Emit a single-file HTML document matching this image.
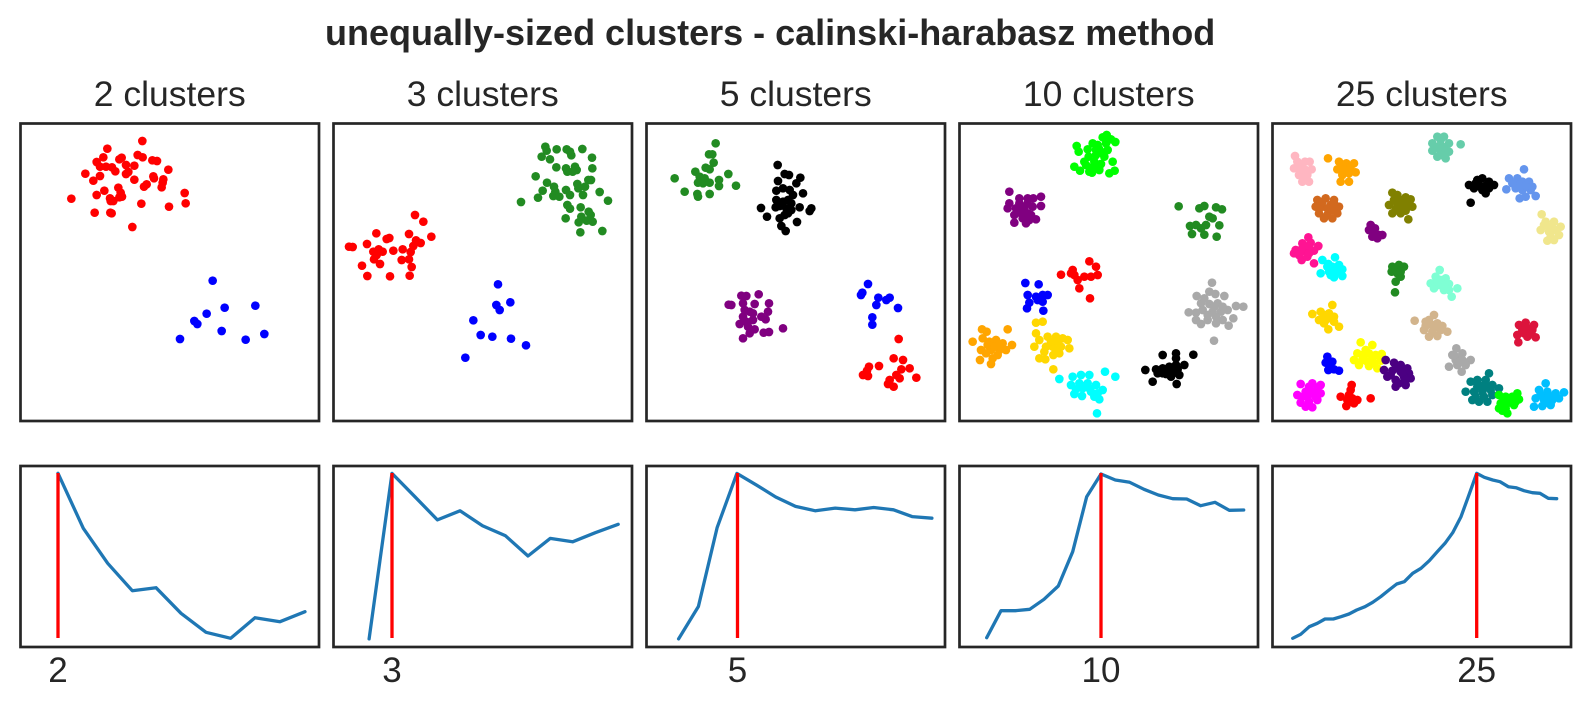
<!DOCTYPE html>
<html>
<head>
<meta charset="utf-8">
<style>
html,body{margin:0;padding:0;background:#fff;}
svg{display:block;}
text{font-family:"Liberation Sans",Arial,sans-serif;fill:#262626;}
</style>
</head>
<body>
<svg width="1589" height="709" viewBox="0 0 1589 709" xmlns="http://www.w3.org/2000/svg">
<rect x="0" y="0" width="1589" height="709" fill="#fff"/>
<text x="325" y="45" font-size="36" font-weight="bold">unequally-sized clusters - calinski-harabasz method</text>
<g font-size="35.5" text-anchor="middle">
<text x="169.75" y="106">2 clusters</text>
<text x="482.75" y="106">3 clusters</text>
<text x="795.75" y="106">5 clusters</text>
<text x="1108.75" y="106">10 clusters</text>
<text x="1421.75" y="106">25 clusters</text>
</g>

<!-- Panel 1 -->
<g transform="translate(0,100) scale(0.333333)">
<g fill="#ff0000">
<circle cx="427" cy="123" r="13"/><circle cx="322" cy="146" r="13"/><circle cx="310" cy="172" r="13"/><circle cx="290" cy="186" r="13"/><circle cx="365" cy="173" r="13"/><circle cx="358" cy="178" r="13"/><circle cx="413" cy="165" r="13"/><circle cx="428" cy="172" r="13"/><circle cx="457" cy="181" r="13"/><circle cx="471" cy="183" r="13"/><circle cx="505" cy="209" r="13"/><circle cx="403" cy="197" r="13"/><circle cx="378" cy="195" r="13"/><circle cx="300" cy="200" r="13"/><circle cx="318" cy="200" r="13"/><circle cx="336" cy="202" r="13"/><circle cx="346" cy="214" r="13"/><circle cx="256" cy="221" r="13"/><circle cx="280" cy="242" r="13"/><circle cx="300" cy="228" r="13"/><circle cx="378" cy="222" r="13"/><circle cx="385" cy="216" r="13"/><circle cx="403" cy="239" r="13"/><circle cx="460" cy="229" r="13"/><circle cx="462" cy="235" r="13"/><circle cx="490" cy="238" r="13"/><circle cx="488" cy="248" r="13"/><circle cx="485" cy="262" r="13"/><circle cx="432" cy="260" r="13"/><circle cx="440" cy="253" r="13"/><circle cx="355" cy="263" r="13"/><circle cx="313" cy="272" r="13"/><circle cx="290" cy="285" r="13"/><circle cx="362" cy="278" r="13"/><circle cx="366" cy="290" r="13"/><circle cx="358" cy="292" r="13"/><circle cx="330" cy="295" r="13"/><circle cx="340" cy="303" r="13"/><circle cx="332" cy="303" r="13"/><circle cx="214" cy="296" r="13"/><circle cx="424" cy="311" r="13"/><circle cx="554" cy="279" r="13"/><circle cx="557" cy="310" r="13"/><circle cx="507" cy="320" r="13"/><circle cx="284" cy="338" r="13"/><circle cx="331" cy="338" r="13"/><circle cx="335" cy="340" r="13"/><circle cx="397" cy="381" r="13"/>
</g>
<g fill="#0000ff">
<circle cx="638" cy="542" r="13"/><circle cx="674" cy="623" r="13"/><circle cx="766" cy="617" r="13"/><circle cx="620" cy="641" r="13"/><circle cx="583" cy="663" r="13"/><circle cx="592" cy="672" r="13"/><circle cx="665" cy="693" r="13"/><circle cx="540" cy="717" r="13"/><circle cx="737" cy="719" r="13"/><circle cx="793" cy="702" r="13"/>
</g>
</g>

<!-- Panel 2 -->
<g transform="translate(330,120) scale(0.333333)">
<g fill="#ff0000">
<circle cx="255" cy="285" r="13"/><circle cx="280" cy="305" r="13"/><circle cx="139" cy="340" r="13"/><circle cx="170" cy="357" r="13"/><circle cx="178" cy="354" r="13"/><circle cx="237" cy="342" r="13"/><circle cx="304" cy="350" r="13"/><circle cx="57" cy="380" r="13"/><circle cx="68" cy="381" r="13"/><circle cx="111" cy="372" r="13"/><circle cx="258" cy="361" r="13"/><circle cx="272" cy="369" r="13"/><circle cx="250" cy="378" r="13"/><circle cx="130" cy="395" r="13"/><circle cx="146" cy="388" r="13"/><circle cx="158" cy="395" r="13"/><circle cx="140" cy="405" r="13"/><circle cx="190" cy="392" r="13"/><circle cx="218" cy="388" r="13"/><circle cx="242" cy="396" r="13"/><circle cx="132" cy="418" r="13"/><circle cx="150" cy="432" r="13"/><circle cx="96" cy="437" r="13"/><circle cx="215" cy="420" r="13"/><circle cx="237" cy="418" r="13"/><circle cx="245" cy="441" r="13"/><circle cx="112" cy="468" r="13"/><circle cx="180" cy="469" r="13"/><circle cx="239" cy="467" r="13"/>
</g>
<g fill="#228b22">
<circle cx="646" cy="80" r="13"/><circle cx="650" cy="92" r="13"/><circle cx="680" cy="88" r="13"/><circle cx="710" cy="88" r="13"/><circle cx="720" cy="95" r="13"/><circle cx="724" cy="106" r="13"/><circle cx="757" cy="87" r="13"/><circle cx="635" cy="110" r="13"/><circle cx="660" cy="118" r="13"/><circle cx="786" cy="113" r="13"/><circle cx="679" cy="142" r="13"/><circle cx="708" cy="145" r="13"/><circle cx="712" cy="155" r="13"/><circle cx="735" cy="140" r="13"/><circle cx="740" cy="150" r="13"/><circle cx="728" cy="155" r="13"/><circle cx="787" cy="145" r="13"/><circle cx="617" cy="169" r="13"/><circle cx="651" cy="188" r="13"/><circle cx="775" cy="180" r="13"/><circle cx="783" cy="180" r="13"/><circle cx="742" cy="192" r="13"/><circle cx="745" cy="205" r="13"/><circle cx="765" cy="200" r="13"/><circle cx="638" cy="212" r="13"/><circle cx="672" cy="200" r="13"/><circle cx="676" cy="215" r="13"/><circle cx="670" cy="228" r="13"/><circle cx="688" cy="230" r="13"/><circle cx="708" cy="210" r="13"/><circle cx="720" cy="225" r="13"/><circle cx="759" cy="225" r="13"/><circle cx="809" cy="216" r="13"/><circle cx="834" cy="242" r="13"/><circle cx="624" cy="233" r="13"/><circle cx="573" cy="246" r="13"/><circle cx="712" cy="255" r="13"/><circle cx="720" cy="266" r="13"/><circle cx="752" cy="262" r="13"/><circle cx="776" cy="275" r="13"/><circle cx="782" cy="285" r="13"/><circle cx="754" cy="290" r="13"/><circle cx="770" cy="302" r="13"/><circle cx="788" cy="305" r="13"/><circle cx="707" cy="295" r="13"/><circle cx="746" cy="307" r="13"/><circle cx="817" cy="333" r="13"/><circle cx="751" cy="337" r="13"/>
</g>
<g fill="#0000ff">
<circle cx="504" cy="493" r="13"/><circle cx="541" cy="547" r="13"/><circle cx="499" cy="555" r="13"/><circle cx="509" cy="570" r="13"/><circle cx="430" cy="601" r="13"/><circle cx="452" cy="645" r="13"/><circle cx="487" cy="650" r="13"/><circle cx="543" cy="656" r="13"/><circle cx="588" cy="676" r="13"/><circle cx="406" cy="713" r="13"/>
</g>
</g>

<!-- Panel 3 -->
<g transform="translate(643,120) scale(0.333333)">
<g fill="#228b22">
<circle cx="218" cy="70" r="13"/><circle cx="198" cy="103" r="13"/><circle cx="208" cy="103" r="13"/><circle cx="212" cy="128" r="13"/><circle cx="188" cy="143" r="13"/><circle cx="200" cy="148" r="13"/><circle cx="157" cy="155" r="13"/><circle cx="95" cy="175" r="13"/><circle cx="256" cy="162" r="13"/><circle cx="170" cy="170" r="13"/><circle cx="185" cy="175" r="13"/><circle cx="165" cy="188" r="13"/><circle cx="180" cy="190" r="13"/><circle cx="200" cy="188" r="13"/><circle cx="228" cy="180" r="13"/><circle cx="228" cy="198" r="13"/><circle cx="279" cy="197" r="13"/><circle cx="125" cy="215" r="13"/><circle cx="163" cy="222" r="13"/><circle cx="165" cy="230" r="13"/><circle cx="200" cy="222" r="13"/>
</g>
<g fill="#000000">
<circle cx="404" cy="135" r="13"/><circle cx="425" cy="162" r="13"/><circle cx="438" cy="165" r="13"/><circle cx="472" cy="173" r="13"/><circle cx="405" cy="183" r="13"/><circle cx="460" cy="190" r="13"/><circle cx="400" cy="212" r="13"/><circle cx="420" cy="205" r="13"/><circle cx="440" cy="210" r="13"/><circle cx="450" cy="225" r="13"/><circle cx="435" cy="240" r="13"/><circle cx="480" cy="220" r="13"/><circle cx="398" cy="262" r="13"/><circle cx="410" cy="258" r="13"/><circle cx="430" cy="265" r="13"/><circle cx="445" cy="270" r="13"/><circle cx="470" cy="262" r="13"/><circle cx="505" cy="265" r="13"/><circle cx="500" cy="273" r="13"/><circle cx="354" cy="264" r="13"/><circle cx="372" cy="290" r="13"/><circle cx="410" cy="295" r="13"/><circle cx="425" cy="285" r="13"/><circle cx="435" cy="280" r="13"/><circle cx="462" cy="306" r="13"/><circle cx="415" cy="318" r="13"/><circle cx="428" cy="333" r="13"/><circle cx="420" cy="245" r="13"/><circle cx="445" cy="250" r="13"/><circle cx="400" cy="240" r="13"/>
</g>
<g fill="#800080">
<circle cx="347" cy="523" r="13"/><circle cx="295" cy="527" r="13"/><circle cx="310" cy="528" r="13"/><circle cx="257" cy="554" r="13"/><circle cx="265" cy="555" r="13"/><circle cx="300" cy="550" r="13"/><circle cx="335" cy="552" r="13"/><circle cx="378" cy="550" r="13"/><circle cx="305" cy="570" r="13"/><circle cx="320" cy="575" r="13"/><circle cx="330" cy="580" r="13"/><circle cx="375" cy="575" r="13"/><circle cx="300" cy="590" r="13"/><circle cx="355" cy="590" r="13"/><circle cx="368" cy="598" r="13"/><circle cx="290" cy="612" r="13"/><circle cx="310" cy="605" r="13"/><circle cx="335" cy="628" r="13"/><circle cx="362" cy="638" r="13"/><circle cx="378" cy="636" r="13"/><circle cx="320" cy="640" r="13"/><circle cx="300" cy="655" r="13"/><circle cx="420" cy="625" r="13"/><circle cx="330" cy="600" r="13"/><circle cx="315" cy="620" r="13"/>
</g>
<g fill="#0000ff">
<circle cx="675" cy="492" r="13"/><circle cx="658" cy="518" r="13"/><circle cx="654" cy="525" r="13"/><circle cx="706" cy="533" r="13"/><circle cx="700" cy="555" r="13"/><circle cx="730" cy="540" r="13"/><circle cx="740" cy="533" r="13"/><circle cx="765" cy="564" r="13"/><circle cx="688" cy="592" r="13"/><circle cx="688" cy="614" r="13"/>
</g>
<g fill="#ff0000">
<circle cx="767" cy="657" r="13"/><circle cx="752" cy="715" r="13"/><circle cx="780" cy="720" r="13"/><circle cx="708" cy="738" r="13"/><circle cx="678" cy="740" r="13"/><circle cx="672" cy="752" r="13"/><circle cx="660" cy="765" r="13"/><circle cx="675" cy="768" r="13"/><circle cx="800" cy="745" r="13"/><circle cx="775" cy="748" r="13"/><circle cx="760" cy="765" r="13"/><circle cx="770" cy="775" r="13"/><circle cx="740" cy="780" r="13"/><circle cx="735" cy="792" r="13"/><circle cx="752" cy="800" r="13"/><circle cx="820" cy="773" r="13"/>
</g>
</g>

<!-- Panel 4 -->
<g transform="translate(956,120) scale(0.333333)">
<g fill="#00ff00">
<circle cx="452" cy="45" r="13"/><circle cx="440" cy="52" r="13"/><circle cx="465" cy="58" r="13"/><circle cx="478" cy="66" r="13"/><circle cx="410" cy="70" r="13"/><circle cx="425" cy="75" r="13"/><circle cx="362" cy="78" r="13"/><circle cx="368" cy="95" r="13"/><circle cx="395" cy="88" r="13"/><circle cx="430" cy="88" r="13"/><circle cx="455" cy="90" r="13"/><circle cx="398" cy="110" r="13"/><circle cx="420" cy="105" r="13"/><circle cx="445" cy="110" r="13"/><circle cx="470" cy="125" r="13"/><circle cx="415" cy="125" r="13"/><circle cx="355" cy="140" r="13"/><circle cx="372" cy="152" r="13"/><circle cx="400" cy="155" r="13"/><circle cx="412" cy="140" r="13"/><circle cx="435" cy="132" r="13"/><circle cx="460" cy="160" r="13"/><circle cx="476" cy="152" r="13"/><circle cx="385" cy="125" r="13"/><circle cx="408" cy="158" r="13"/>
<circle cx="420" cy="90" r="13"/><circle cx="440" cy="100" r="13"/><circle cx="390" cy="135" r="13"/><circle cx="430" cy="150" r="13"/><circle cx="450" cy="70" r="13"/>
</g>
<g fill="#800080">
<circle cx="160" cy="215" r="13"/><circle cx="190" cy="235" r="13"/><circle cx="215" cy="235" r="13"/><circle cx="232" cy="235" r="13"/><circle cx="255" cy="230" r="13"/><circle cx="255" cy="258" r="13"/><circle cx="155" cy="265" r="13"/><circle cx="160" cy="250" r="13"/><circle cx="180" cy="265" r="13"/><circle cx="205" cy="265" r="13"/><circle cx="230" cy="260" r="13"/><circle cx="175" cy="285" r="13"/><circle cx="195" cy="280" r="13"/><circle cx="215" cy="280" r="13"/><circle cx="240" cy="298" r="13"/><circle cx="175" cy="308" r="13"/><circle cx="210" cy="310" r="13"/><circle cx="220" cy="300" r="13"/><circle cx="200" cy="295" r="13"/>
<circle cx="190" cy="250" r="13"/><circle cx="215" cy="250" r="13"/><circle cx="195" cy="270" r="13"/><circle cx="225" cy="285" r="13"/>
</g>
<g fill="#228b22">
<circle cx="668" cy="259" r="13"/><circle cx="730" cy="265" r="13"/><circle cx="745" cy="258" r="13"/><circle cx="780" cy="262" r="13"/><circle cx="798" cy="268" r="13"/><circle cx="760" cy="290" r="13"/><circle cx="770" cy="295" r="13"/><circle cx="702" cy="318" r="13"/><circle cx="720" cy="315" r="13"/><circle cx="750" cy="315" r="13"/><circle cx="790" cy="316" r="13"/><circle cx="708" cy="342" r="13"/><circle cx="745" cy="344" r="13"/><circle cx="782" cy="350" r="13"/><circle cx="735" cy="325" r="13"/>
</g>
<g fill="#ff0000">
<circle cx="400" cy="424" r="13"/><circle cx="420" cy="440" r="13"/><circle cx="425" cy="465" r="13"/><circle cx="315" cy="464" r="13"/><circle cx="350" cy="450" r="13"/><circle cx="355" cy="465" r="13"/><circle cx="365" cy="480" r="13"/><circle cx="385" cy="470" r="13"/><circle cx="405" cy="470" r="13"/><circle cx="370" cy="505" r="13"/><circle cx="402" cy="535" r="13"/><circle cx="345" cy="460" r="13"/>
</g>
<g fill="#0000ff">
<circle cx="208" cy="489" r="13"/><circle cx="248" cy="493" r="13"/><circle cx="215" cy="525" r="13"/><circle cx="240" cy="530" r="13"/><circle cx="260" cy="525" r="13"/><circle cx="275" cy="525" r="13"/><circle cx="220" cy="548" r="13"/><circle cx="260" cy="545" r="13"/><circle cx="213" cy="565" r="13"/><circle cx="262" cy="572" r="13"/><circle cx="245" cy="540" r="13"/>
</g>
<g fill="#a9a9a9">
<circle cx="768" cy="488" r="13"/><circle cx="760" cy="515" r="13"/><circle cx="778" cy="522" r="13"/><circle cx="805" cy="528" r="13"/><circle cx="722" cy="528" r="13"/><circle cx="735" cy="550" r="13"/><circle cx="760" cy="552" r="13"/><circle cx="785" cy="550" r="13"/><circle cx="840" cy="558" r="13"/><circle cx="862" cy="560" r="13"/><circle cx="698" cy="577" r="13"/><circle cx="720" cy="578" r="13"/><circle cx="740" cy="570" r="13"/><circle cx="770" cy="575" r="13"/><circle cx="795" cy="575" r="13"/><circle cx="815" cy="570" r="13"/><circle cx="720" cy="600" r="13"/><circle cx="735" cy="612" r="13"/><circle cx="755" cy="600" r="13"/><circle cx="780" cy="590" r="13"/><circle cx="800" cy="600" r="13"/><circle cx="818" cy="617" r="13"/><circle cx="832" cy="595" r="13"/><circle cx="774" cy="662" r="13"/>
<circle cx="775" cy="560" r="13"/><circle cx="800" cy="560" r="13"/><circle cx="755" cy="585" r="13"/><circle cx="780" cy="610" r="13"/><circle cx="745" cy="535" r="13"/>
</g>
<g fill="#ffa500">
<circle cx="78" cy="628" r="13"/><circle cx="92" cy="635" r="13"/><circle cx="155" cy="628" r="13"/><circle cx="50" cy="665" r="13"/><circle cx="80" cy="655" r="13"/><circle cx="100" cy="665" r="13"/><circle cx="120" cy="660" r="13"/><circle cx="140" cy="670" r="13"/><circle cx="168" cy="675" r="13"/><circle cx="75" cy="690" r="13"/><circle cx="105" cy="690" r="13"/><circle cx="130" cy="690" r="13"/><circle cx="150" cy="690" r="13"/><circle cx="72" cy="720" r="13"/><circle cx="110" cy="715" r="13"/><circle cx="105" cy="732" r="13"/><circle cx="125" cy="705" r="13"/>
<circle cx="95" cy="675" r="13"/><circle cx="115" cy="680" r="13"/><circle cx="90" cy="700" r="13"/><circle cx="130" cy="675" r="13"/>
</g>
<g fill="#ffd700">
<circle cx="240" cy="608" r="13"/><circle cx="260" cy="605" r="13"/><circle cx="240" cy="640" r="13"/><circle cx="250" cy="660" r="13"/><circle cx="275" cy="650" r="13"/><circle cx="300" cy="650" r="13"/><circle cx="320" cy="655" r="13"/><circle cx="335" cy="660" r="13"/><circle cx="235" cy="680" r="13"/><circle cx="270" cy="680" r="13"/><circle cx="290" cy="680" r="13"/><circle cx="315" cy="680" r="13"/><circle cx="340" cy="685" r="13"/><circle cx="310" cy="700" r="13"/><circle cx="250" cy="715" r="13"/><circle cx="268" cy="718" r="13"/><circle cx="292" cy="705" r="13"/><circle cx="292" cy="748" r="13"/>
<circle cx="285" cy="665" r="13"/><circle cx="305" cy="665" r="13"/><circle cx="265" cy="695" r="13"/><circle cx="300" cy="690" r="13"/>
</g>
<g fill="#00ffff">
<circle cx="310" cy="777" r="13"/><circle cx="350" cy="770" r="13"/><circle cx="375" cy="765" r="13"/><circle cx="400" cy="765" r="13"/><circle cx="447" cy="755" r="13"/><circle cx="478" cy="770" r="13"/><circle cx="345" cy="795" r="13"/><circle cx="370" cy="790" r="13"/><circle cx="395" cy="790" r="13"/><circle cx="420" cy="795" r="13"/><circle cx="440" cy="810" r="13"/><circle cx="355" cy="822" r="13"/><circle cx="378" cy="828" r="13"/><circle cx="405" cy="815" r="13"/><circle cx="425" cy="820" r="13"/><circle cx="430" cy="838" r="13"/><circle cx="423" cy="880" r="13"/>
<circle cx="380" cy="805" r="13"/><circle cx="400" cy="805" r="13"/><circle cx="360" cy="808" r="13"/><circle cx="415" cy="830" r="13"/>
</g>
<g fill="#000000">
<circle cx="620" cy="705" r="13"/><circle cx="660" cy="700" r="13"/><circle cx="712" cy="704" r="13"/><circle cx="568" cy="750" r="13"/><circle cx="600" cy="748" r="13"/><circle cx="620" cy="745" r="13"/><circle cx="640" cy="740" r="13"/><circle cx="660" cy="735" r="13"/><circle cx="685" cy="735" r="13"/><circle cx="605" cy="760" r="13"/><circle cx="630" cy="762" r="13"/><circle cx="652" cy="758" r="13"/><circle cx="670" cy="765" r="13"/><circle cx="590" cy="785" r="13"/><circle cx="662" cy="792" r="13"/><circle cx="645" cy="770" r="13"/>
<circle cx="640" cy="755" r="13"/><circle cx="620" cy="760" r="13"/><circle cx="665" cy="748" r="13"/><circle cx="660" cy="715" r="13"/>
</g>
</g>

<!-- Panel 5 -->
<g transform="translate(1269,120) scale(0.333333)">
<g fill="#66cdaa"><circle cx="505" cy="50" r="13"/><circle cx="525" cy="50" r="13"/><circle cx="490" cy="70" r="13"/><circle cx="515" cy="75" r="13"/><circle cx="540" cy="70" r="13"/><circle cx="575" cy="73" r="13"/><circle cx="490" cy="92" r="13"/><circle cx="515" cy="95" r="13"/><circle cx="540" cy="95" r="13"/><circle cx="505" cy="110" r="13"/><circle cx="530" cy="115" r="13"/><circle cx="500" cy="80" r="13"/><circle cx="525" cy="82" r="13"/><circle cx="515" cy="60" r="13"/><circle cx="520" cy="105" r="13"/></g>
<g fill="#ffb6c1"><circle cx="78" cy="108" r="13"/><circle cx="85" cy="125" r="13"/><circle cx="108" cy="125" r="13"/><circle cx="122" cy="125" r="13"/><circle cx="75" cy="145" r="13"/><circle cx="100" cy="145" r="13"/><circle cx="128" cy="148" r="13"/><circle cx="90" cy="165" r="13"/><circle cx="115" cy="165" r="13"/><circle cx="100" cy="185" r="13"/><circle cx="120" cy="185" r="13"/><circle cx="95" cy="135" r="13"/><circle cx="110" cy="150" r="13"/><circle cx="95" cy="155" r="13"/><circle cx="105" cy="172" r="13"/></g>
<g fill="#ffa500"><circle cx="177" cy="115" r="13"/><circle cx="210" cy="125" r="13"/><circle cx="232" cy="130" r="13"/><circle cx="255" cy="130" r="13"/><circle cx="205" cy="148" r="13"/><circle cx="230" cy="145" r="13"/><circle cx="260" cy="157" r="13"/><circle cx="220" cy="165" r="13"/><circle cx="215" cy="185" r="13"/><circle cx="240" cy="185" r="13"/><circle cx="220" cy="135" r="13"/><circle cx="240" cy="160" r="13"/><circle cx="225" cy="150" r="13"/><circle cx="245" cy="140" r="13"/></g>
<g fill="#000000"><circle cx="600" cy="195" r="13"/><circle cx="625" cy="180" r="13"/><circle cx="640" cy="175" r="13"/><circle cx="660" cy="185" r="13"/><circle cx="675" cy="195" r="13"/><circle cx="615" cy="205" r="13"/><circle cx="640" cy="210" r="13"/><circle cx="650" cy="220" r="13"/><circle cx="605" cy="248" r="13"/><circle cx="630" cy="195" r="13"/><circle cx="620" cy="190" r="13"/><circle cx="650" cy="198" r="13"/><circle cx="635" cy="200" r="13"/><circle cx="660" cy="205" r="13"/></g>
<g fill="#6495ed"><circle cx="765" cy="148" r="13"/><circle cx="720" cy="175" r="13"/><circle cx="745" cy="175" r="13"/><circle cx="760" cy="185" r="13"/><circle cx="780" cy="185" r="13"/><circle cx="712" cy="208" r="13"/><circle cx="740" cy="205" r="13"/><circle cx="760" cy="210" r="13"/><circle cx="785" cy="210" r="13"/><circle cx="752" cy="235" r="13"/><circle cx="800" cy="228" r="13"/><circle cx="770" cy="230" r="13"/><circle cx="750" cy="195" r="13"/><circle cx="770" cy="198" r="13"/><circle cx="730" cy="190" r="13"/><circle cx="790" cy="200" r="13"/></g>
<g fill="#d2691e"><circle cx="145" cy="240" r="13"/><circle cx="170" cy="235" r="13"/><circle cx="195" cy="240" r="13"/><circle cx="140" cy="260" r="13"/><circle cx="160" cy="260" r="13"/><circle cx="185" cy="255" r="13"/><circle cx="210" cy="260" r="13"/><circle cx="150" cy="280" r="13"/><circle cx="175" cy="285" r="13"/><circle cx="205" cy="280" r="13"/><circle cx="190" cy="295" r="13"/><circle cx="165" cy="295" r="13"/><circle cx="175" cy="265" r="13"/><circle cx="160" cy="245" r="13"/><circle cx="190" cy="270" r="13"/><circle cx="195" cy="250" r="13"/></g>
<g fill="#808000"><circle cx="370" cy="218" r="13"/><circle cx="385" cy="225" r="13"/><circle cx="410" cy="232" r="13"/><circle cx="425" cy="238" r="13"/><circle cx="360" cy="255" r="13"/><circle cx="385" cy="255" r="13"/><circle cx="410" cy="255" r="13"/><circle cx="430" cy="260" r="13"/><circle cx="370" cy="280" r="13"/><circle cx="395" cy="280" r="13"/><circle cx="418" cy="298" r="13"/><circle cx="400" cy="270" r="13"/><circle cx="375" cy="240" r="13"/><circle cx="395" cy="240" r="13"/><circle cx="420" cy="248" r="13"/><circle cx="380" cy="268" r="13"/><circle cx="410" cy="272" r="13"/></g>
<g fill="#f0e68c"><circle cx="818" cy="283" r="13"/><circle cx="830" cy="305" r="13"/><circle cx="855" cy="305" r="13"/><circle cx="875" cy="320" r="13"/><circle cx="815" cy="330" r="13"/><circle cx="840" cy="335" r="13"/><circle cx="870" cy="345" r="13"/><circle cx="835" cy="362" r="13"/><circle cx="855" cy="360" r="13"/><circle cx="850" cy="325" r="13"/><circle cx="835" cy="318" r="13"/><circle cx="860" cy="330" r="13"/><circle cx="825" cy="315" r="13"/><circle cx="845" cy="350" r="13"/></g>
<g fill="#800080"><circle cx="305" cy="315" r="13"/><circle cx="300" cy="330" r="13"/><circle cx="315" cy="335" r="13"/><circle cx="330" cy="345" r="13"/><circle cx="310" cy="350" r="13"/><circle cx="340" cy="345" r="13"/><circle cx="325" cy="355" r="13"/><circle cx="318" cy="325" r="13"/><circle cx="320" cy="342" r="13"/></g>
<g fill="#ff1493"><circle cx="118" cy="352" r="13"/><circle cx="100" cy="370" r="13"/><circle cx="125" cy="368" r="13"/><circle cx="148" cy="378" r="13"/><circle cx="80" cy="390" r="13"/><circle cx="110" cy="395" r="13"/><circle cx="135" cy="392" r="13"/><circle cx="75" cy="400" r="13"/><circle cx="98" cy="420" r="13"/><circle cx="135" cy="430" r="13"/><circle cx="115" cy="410" r="13"/><circle cx="100" cy="385" r="13"/><circle cx="120" cy="380" r="13"/><circle cx="90" cy="405" r="13"/><circle cx="120" cy="400" r="13"/></g>
<g fill="#00ffff"><circle cx="160" cy="420" r="13"/><circle cx="198" cy="412" r="13"/><circle cx="178" cy="432" r="13"/><circle cx="210" cy="435" r="13"/><circle cx="220" cy="448" r="13"/><circle cx="155" cy="460" r="13"/><circle cx="180" cy="455" r="13"/><circle cx="200" cy="460" r="13"/><circle cx="220" cy="468" r="13"/><circle cx="195" cy="472" r="13"/><circle cx="190" cy="440" r="13"/><circle cx="175" cy="440" r="13"/><circle cx="205" cy="448" r="13"/><circle cx="185" cy="465" r="13"/></g>
<g fill="#228b22"><circle cx="370" cy="440" r="13"/><circle cx="390" cy="435" r="13"/><circle cx="405" cy="440" r="13"/><circle cx="368" cy="455" r="13"/><circle cx="385" cy="460" r="13"/><circle cx="395" cy="470" r="13"/><circle cx="380" cy="485" r="13"/><circle cx="378" cy="517" r="13"/><circle cx="380" cy="448" r="13"/><circle cx="395" cy="455" r="13"/></g>
<g fill="#7fffd4"><circle cx="512" cy="450" r="13"/><circle cx="500" cy="470" r="13"/><circle cx="530" cy="475" r="13"/><circle cx="485" cy="490" r="13"/><circle cx="510" cy="495" r="13"/><circle cx="540" cy="492" r="13"/><circle cx="565" cy="505" r="13"/><circle cx="495" cy="505" r="13"/><circle cx="525" cy="510" r="13"/><circle cx="548" cy="530" r="13"/><circle cx="515" cy="480" r="13"/><circle cx="525" cy="495" r="13"/><circle cx="540" cy="510" r="13"/><circle cx="505" cy="485" r="13"/></g>
<g fill="#ffd700"><circle cx="190" cy="555" r="13"/><circle cx="130" cy="582" r="13"/><circle cx="155" cy="575" r="13"/><circle cx="180" cy="580" r="13"/><circle cx="150" cy="600" r="13"/><circle cx="170" cy="600" r="13"/><circle cx="195" cy="605" r="13"/><circle cx="210" cy="620" r="13"/><circle cx="178" cy="628" r="13"/><circle cx="165" cy="610" r="13"/><circle cx="165" cy="585" r="13"/><circle cx="185" cy="595" r="13"/><circle cx="165" cy="595" r="13"/><circle cx="195" cy="590" r="13"/></g>
<g fill="#d2b48c"><circle cx="437" cy="602" r="13"/><circle cx="495" cy="585" r="13"/><circle cx="470" cy="605" r="13"/><circle cx="505" cy="610" r="13"/><circle cx="465" cy="630" r="13"/><circle cx="490" cy="635" r="13"/><circle cx="515" cy="630" r="13"/><circle cx="535" cy="635" r="13"/><circle cx="480" cy="650" r="13"/><circle cx="505" cy="648" r="13"/><circle cx="490" cy="615" r="13"/><circle cx="480" cy="600" r="13"/><circle cx="495" cy="625" r="13"/><circle cx="520" cy="618" r="13"/><circle cx="470" cy="618" r="13"/></g>
<g fill="#dc143c"><circle cx="770" cy="608" r="13"/><circle cx="750" cy="615" r="13"/><circle cx="795" cy="615" r="13"/><circle cx="760" cy="630" r="13"/><circle cx="790" cy="630" r="13"/><circle cx="745" cy="645" r="13"/><circle cx="775" cy="650" r="13"/><circle cx="800" cy="652" r="13"/><circle cx="748" cy="667" r="13"/><circle cx="775" cy="625" r="13"/><circle cx="765" cy="640" r="13"/><circle cx="785" cy="640" r="13"/><circle cx="770" cy="618" r="13"/></g>
<g fill="#ffff00"><circle cx="275" cy="667" r="13"/><circle cx="310" cy="675" r="13"/><circle cx="290" cy="690" r="13"/><circle cx="265" cy="700" r="13"/><circle cx="300" cy="700" r="13"/><circle cx="338" cy="702" r="13"/><circle cx="255" cy="720" r="13"/><circle cx="280" cy="720" r="13"/><circle cx="310" cy="715" r="13"/><circle cx="335" cy="722" r="13"/><circle cx="270" cy="735" r="13"/><circle cx="300" cy="738" r="13"/><circle cx="325" cy="745" r="13"/><circle cx="285" cy="705" r="13"/><circle cx="320" cy="705" r="13"/><circle cx="295" cy="725" r="13"/><circle cx="280" cy="705" r="13"/><circle cx="315" cy="730" r="13"/></g>
<g fill="#0000ff"><circle cx="175" cy="710" r="13"/><circle cx="170" cy="728" r="13"/><circle cx="190" cy="725" r="13"/><circle cx="178" cy="750" r="13"/><circle cx="195" cy="748" r="13"/><circle cx="210" cy="752" r="13"/><circle cx="182" cy="738" r="13"/></g>
<g fill="#4b0082"><circle cx="350" cy="720" r="13"/><circle cx="375" cy="728" r="13"/><circle cx="395" cy="735" r="13"/><circle cx="415" cy="745" r="13"/><circle cx="345" cy="750" r="13"/><circle cx="370" cy="752" r="13"/><circle cx="395" cy="755" r="13"/><circle cx="420" cy="760" r="13"/><circle cx="355" cy="770" r="13"/><circle cx="380" cy="780" r="13"/><circle cx="405" cy="770" r="13"/><circle cx="425" cy="775" r="13"/><circle cx="380" cy="800" r="13"/><circle cx="410" cy="795" r="13"/><circle cx="385" cy="745" r="13"/><circle cx="400" cy="760" r="13"/><circle cx="365" cy="765" r="13"/><circle cx="390" cy="790" r="13"/><circle cx="410" cy="780" r="13"/></g>
<g fill="#a9a9a9"><circle cx="562" cy="685" r="13"/><circle cx="550" cy="705" r="13"/><circle cx="580" cy="700" r="13"/><circle cx="605" cy="720" r="13"/><circle cx="540" cy="740" r="13"/><circle cx="565" cy="735" r="13"/><circle cx="590" cy="735" r="13"/><circle cx="578" cy="755" r="13"/><circle cx="570" cy="715" r="13"/><circle cx="560" cy="720" r="13"/><circle cx="580" cy="720" r="13"/><circle cx="555" cy="705" r="13"/></g>
<g fill="#008080"><circle cx="660" cy="760" r="13"/><circle cx="605" cy="785" r="13"/><circle cx="625" cy="780" r="13"/><circle cx="650" cy="780" r="13"/><circle cx="670" cy="795" r="13"/><circle cx="590" cy="815" r="13"/><circle cx="615" cy="815" r="13"/><circle cx="640" cy="815" r="13"/><circle cx="665" cy="810" r="13"/><circle cx="690" cy="805" r="13"/><circle cx="610" cy="840" r="13"/><circle cx="630" cy="845" r="13"/><circle cx="655" cy="845" r="13"/><circle cx="635" cy="798" r="13"/><circle cx="625" cy="800" r="13"/><circle cx="650" cy="800" r="13"/><circle cx="620" cy="830" r="13"/><circle cx="645" cy="830" r="13"/><circle cx="670" cy="825" r="13"/></g>
<g fill="#ff00ff"><circle cx="95" cy="792" r="13"/><circle cx="130" cy="790" r="13"/><circle cx="155" cy="795" r="13"/><circle cx="85" cy="825" r="13"/><circle cx="110" cy="815" r="13"/><circle cx="130" cy="815" r="13"/><circle cx="155" cy="820" r="13"/><circle cx="95" cy="848" r="13"/><circle cx="120" cy="845" r="13"/><circle cx="145" cy="840" r="13"/><circle cx="130" cy="862" r="13"/><circle cx="115" cy="830" r="13"/><circle cx="100" cy="830" r="13"/><circle cx="140" cy="830" r="13"/><circle cx="120" cy="800" r="13"/><circle cx="110" cy="860" r="13"/><circle cx="145" cy="805" r="13"/></g>
<g fill="#ff0000"><circle cx="248" cy="795" r="13"/><circle cx="245" cy="810" r="13"/><circle cx="215" cy="830" r="13"/><circle cx="240" cy="825" r="13"/><circle cx="265" cy="840" r="13"/><circle cx="305" cy="835" r="13"/><circle cx="232" cy="858" r="13"/><circle cx="255" cy="850" r="13"/><circle cx="235" cy="840" r="13"/><circle cx="250" cy="835" r="13"/></g>
<g fill="#00ff00"><circle cx="745" cy="820" r="13"/><circle cx="750" cy="838" r="13"/><circle cx="690" cy="825" r="13"/><circle cx="710" cy="830" r="13"/><circle cx="730" cy="830" r="13"/><circle cx="695" cy="850" r="13"/><circle cx="715" cy="850" r="13"/><circle cx="735" cy="855" r="13"/><circle cx="700" cy="872" r="13"/><circle cx="715" cy="880" r="13"/><circle cx="690" cy="865" r="13"/><circle cx="705" cy="840" r="13"/><circle cx="725" cy="840" r="13"/><circle cx="710" cy="865" r="13"/><circle cx="740" cy="845" r="13"/></g>
<g fill="#00bfff"><circle cx="830" cy="790" r="13"/><circle cx="810" cy="810" r="13"/><circle cx="835" cy="815" r="13"/><circle cx="860" cy="820" r="13"/><circle cx="885" cy="817" r="13"/><circle cx="800" cy="835" r="13"/><circle cx="825" cy="840" r="13"/><circle cx="850" cy="840" r="13"/><circle cx="870" cy="835" r="13"/><circle cx="795" cy="860" r="13"/><circle cx="820" cy="858" r="13"/><circle cx="845" cy="855" r="13"/><circle cx="835" cy="828" r="13"/><circle cx="855" cy="828" r="13"/><circle cx="815" cy="825" r="13"/><circle cx="840" cy="850" r="13"/></g>
</g>

<!-- Bottom line plots -->
<g fill="none" stroke="#1f77b4" stroke-width="3.3" stroke-linejoin="round" stroke-linecap="round">
<polyline points="58,473.3 83.3,528.3 107.7,563.3 132.3,590.7 156,587.7 181,613.3 206,632.3 230.7,638.3 255,617.7 280,621.7 305,611.7"/>
<polyline points="369.1,638.9 392,473.4 414.5,496.3 437.4,519.9 460,510.8 482.5,525.7 505.5,535.8 528,556 550.2,538.4 572.6,541.8 595.3,532.7 618.2,524.3"/>
<polyline points="678.6,638.9 698.4,606.5 717.1,527.7 736.9,473.4 756.7,485.2 775.7,497 795.5,506.4 815.4,510.8 835.2,508.1 855,509.8 873.7,507.5 893.5,509.8 912.1,516.6 931.9,518.2"/>
<polyline points="986.7,637.7 1001,610.7 1015.3,610.7 1029.7,609.3 1044,599.3 1058.3,586 1072.7,551.7 1086.7,496.7 1101,474 1115.3,480 1129.7,482.3 1144,489.3 1158.3,495 1172.7,498.7 1186.7,499 1200.7,505.7 1215,502.3 1229.3,510.3 1243.7,510"/>
<polyline points="1292.7,638.3 1300.7,634.3 1309.3,626.7 1317.3,623.3 1325,619 1333.3,619 1341,616.7 1349,614 1356.7,610 1365,606.7 1372.7,602.3 1380.7,596.7 1389,590 1396.7,584 1404.3,581.7 1412.7,573.3 1421,568.3 1429.3,560.7 1437.3,551.7 1445,543.3 1452.7,532.7 1461,516.7 1468.3,496.7 1476.7,473.3 1484.3,477.3 1492.7,480 1500,481.7 1508.3,486.7 1516,487.7 1524,490.7 1532.3,492.7 1540,493.3 1548.3,498.3 1556.7,498.7"/>
</g>
<g stroke="#ff0000" stroke-width="3.3">
<line x1="58" y1="473" x2="58" y2="638"/>
<line x1="392" y1="473" x2="392" y2="638"/>
<line x1="737.5" y1="473" x2="737.5" y2="638"/>
<line x1="1101" y1="473" x2="1101" y2="638"/>
<line x1="1476.7" y1="473" x2="1476.7" y2="638"/>
</g>

<!-- Frames -->
<g fill="none" stroke="#262626" stroke-width="2.7">
<rect x="20.5" y="123.5" width="298.5" height="297.5"/>
<rect x="333.5" y="123.5" width="298.5" height="297.5"/>
<rect x="646.5" y="123.5" width="298.5" height="297.5"/>
<rect x="959.5" y="123.5" width="298.5" height="297.5"/>
<rect x="1272.5" y="123.5" width="298.5" height="297.5"/>
<rect x="20.5" y="466" width="298.5" height="181"/>
<rect x="333.5" y="466" width="298.5" height="181"/>
<rect x="646.5" y="466" width="298.5" height="181"/>
<rect x="959.5" y="466" width="298.5" height="181"/>
<rect x="1272.5" y="466" width="298.5" height="181"/>
</g>

<g font-size="35" text-anchor="middle">
<text x="58" y="682">2</text>
<text x="392" y="682">3</text>
<text x="737.5" y="682">5</text>
<text x="1101" y="682">10</text>
<text x="1476.7" y="682">25</text>
</g>
</svg>
</body>
</html>
